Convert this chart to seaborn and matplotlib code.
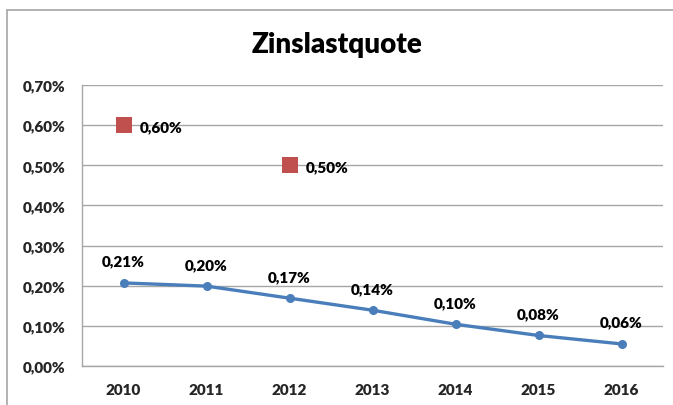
import matplotlib
matplotlib.use("Agg")
import matplotlib.pyplot as plt
import seaborn as sns
import pandas as pd
from matplotlib.lines import Line2D

years = ["2010", "2011", "2012", "2013", "2014", "2015", "2016"]
quote = [0.207, 0.199, 0.169, 0.139, 0.104, 0.076, 0.055]
extra_years = ["2010", "2012"]
extra_vals = [0.60, 0.50]
yticks = [0.0, 0.1, 0.2, 0.3, 0.4, 0.5, 0.6, 0.7]
title = "Zinslastquote"

sns.set_theme(style="white")
plt.rcParams['font.family'] = ['Lato', 'DejaVu Sans']

blue = "#4A7EBB"
red = "#C0504D"

df = pd.DataFrame({"year": years, "quote": quote})
df2 = pd.DataFrame({"year": extra_years, "val": extra_vals})

fig = plt.figure(figsize=(6.73, 4.06), dpi=100)
ax = fig.add_axes([82/673, 1-367/406, (663-82)/673, (367-86)/406])

sns.lineplot(data=df, x="year", y="quote", ax=ax, color=blue, linewidth=2.4,
             marker="o", markersize=6.5, markeredgewidth=0, sort=False, zorder=3)
sns.scatterplot(data=df2, x="year", y="val", ax=ax, color=red, marker="s",
                s=140, linewidth=0, zorder=3)

def fmt(v):
    return f"{v:.2f}".replace(".", ",") + "%"

fs = 11
for i, v in enumerate(quote):
    ax.annotate(fmt(v), (i, v), xytext=(0, 11), textcoords="offset points",
                ha="center", va="bottom", fontsize=fs, fontweight="heavy", color="black")
for y, v in zip(extra_years, extra_vals):
    xi = years.index(y)
    ax.annotate(fmt(v), (xi, v), xytext=(12, -1), textcoords="offset points",
                ha="left", va="center", fontsize=fs, fontweight="heavy", color="black")

ax.set_ylim(0, 0.7)
ax.set_xlim(-0.5, len(years) - 0.5)
ax.set_yticks(yticks)
ax.set_yticklabels([fmt(v) for v in yticks], fontsize=fs, fontweight="heavy")
ax.set_xticks(range(len(years)))
ax.set_xticklabels(years, fontsize=fs, fontweight="heavy")
ax.tick_params(axis="x", pad=12, length=0)
ax.tick_params(axis="y", pad=12, length=0)
ax.grid(axis="y", color="#A6A6A6", linewidth=1)
ax.set_axisbelow(True)
ax.set_xlabel("")
ax.set_ylabel("")
for s in ["top", "right"]:
    ax.spines[s].set_visible(False)
for s in ["left", "bottom"]:
    ax.spines[s].set_color("#A6A6A6")
    ax.spines[s].set_linewidth(1)

fig.text(337/673, 1-45/406, title, ha="center", va="center",
         fontsize=20, fontweight="heavy", color="black")

fig.add_artist(Line2D([7/673, 7/673], [0, 1-10.5/406], transform=fig.transFigure,
                      color="#A6A6A6", linewidth=1.2))
fig.add_artist(Line2D([7/673, 1], [1-10.5/406, 1-10.5/406], transform=fig.transFigure,
                      color="#A6A6A6", linewidth=1.2))

fig.savefig("out.png", dpi=100)
